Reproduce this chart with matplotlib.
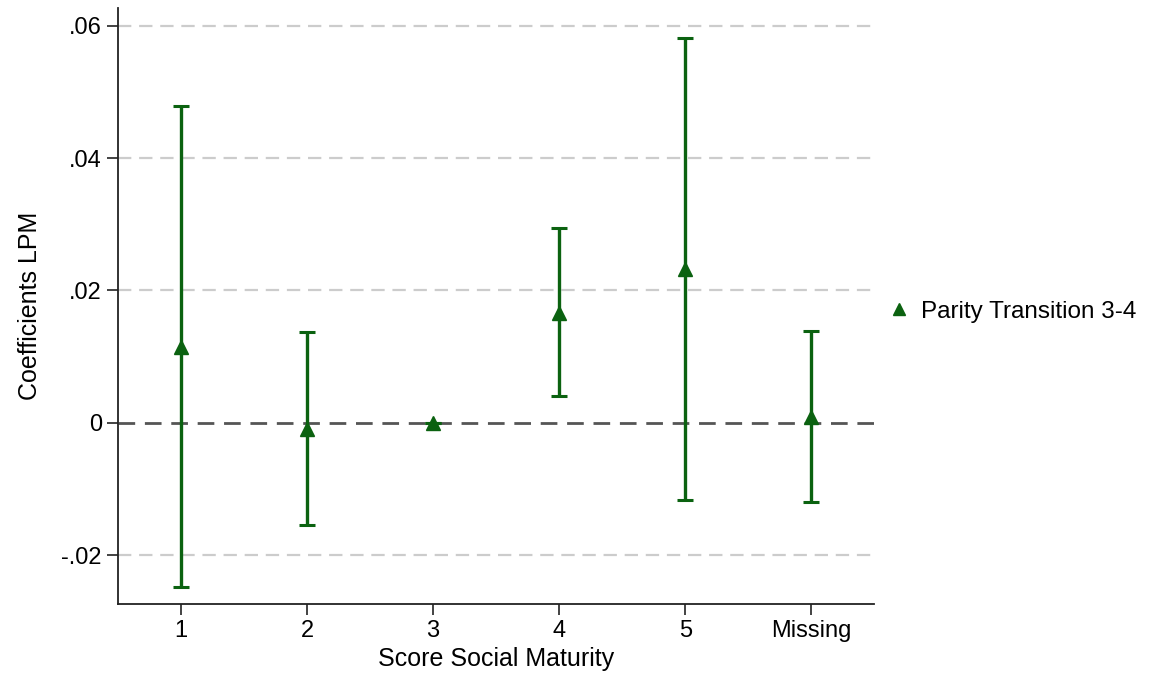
import matplotlib.pyplot as plt
import numpy as np

plt.rcParams["font.family"] = ["Liberation Sans", "DejaVu Sans"]

# coefficient estimates and 95% CI bounds per score category
categories = ["1", "2", "3", "4", "5", "Missing"]
coef = [0.0114, -0.0009, 0.0, 0.0165, 0.0233, 0.0009]
ci_low = [-0.0249, -0.0155, 0.0, 0.0040, -0.0117, -0.0120]
ci_high = [0.0479, 0.0137, 0.0, 0.0294, 0.0581, 0.0138]
yticks = [-0.02, 0.0, 0.02, 0.04, 0.06]
ytick_labels = ["-.02", "0", ".02", ".04", ".06"]

green = "#0b6210"

fig = plt.figure(figsize=(11.53, 6.79), dpi=100)
ax = fig.add_axes([0.1023, 0.1105, 0.656, 0.878])

x = np.arange(1, len(categories) + 1)
coef = np.array(coef)
yerr = np.vstack([coef - np.array(ci_low), np.array(ci_high) - coef])

# gridlines and the zero reference line
for yv in yticks:
    if yv == 0:
        ax.axhline(yv, color="#555555", lw=2.0, dashes=(6, 3.5), zorder=1)
    else:
        ax.axhline(yv, color="#cccccc", lw=1.6, dashes=(6, 3.5), zorder=1)

ax.errorbar(x, coef, yerr=yerr, fmt="none", ecolor=green, elinewidth=2.4,
            capsize=5.5, capthick=2.2, zorder=3)
ax.plot(x, coef, "^", color=green, ms=10, zorder=4, linestyle="none",
        label="Parity Transition 3-4")

ax.set_xlim(0.5, 6.5)
ax.set_ylim(-0.0274, 0.0627)
ax.set_xticks(x)
ax.set_xticklabels(categories)
ax.set_yticks(yticks)
ax.set_yticklabels(ytick_labels)
ax.tick_params(axis="both", labelsize=17, length=8, width=1.2, color="#222222")

for side in ["top", "right"]:
    ax.spines[side].set_visible(False)
for side in ["left", "bottom"]:
    ax.spines[side].set_linewidth(1.3)
    ax.spines[side].set_color("#222222")

ax.set_xlabel("Score Social Maturity", fontsize=18, labelpad=4)
ax.set_ylabel("Coefficients LPM", fontsize=18, labelpad=14)

ax.legend(loc="center left", bbox_to_anchor=(0.994, 0.49), frameon=False,
          fontsize=17.5, handlelength=0.6, handletextpad=0.6, markerscale=0.8)

fig.savefig("out.png", dpi=100, facecolor="white")
